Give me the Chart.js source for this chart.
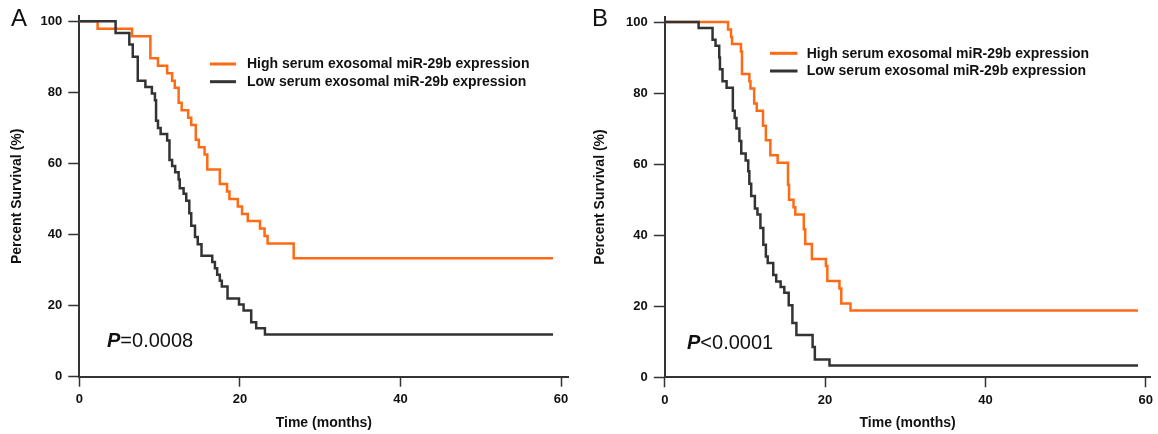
<!DOCTYPE html>
<html>
<head>
<meta charset="utf-8">
<script src="https://cdn.jsdelivr.net/npm/chart.js@4.4.0/dist/chart.umd.min.js"></script>
<style>
html,body{margin:0;padding:0;background:#fff;}
#wrap{position:relative;width:1158px;height:434px;overflow:hidden;}
.pane{position:absolute;top:0;width:579px;height:434px;}
</style>
</head>
<body>
<div id="wrap">
  <div class="pane" style="left:0"><canvas id="cA" width="579" height="434"></canvas></div>
  <div class="pane" style="left:579px"><canvas id="cB" width="579" height="434"></canvas></div>
</div>
<script>
// ---------- data ----------
const seriesLabels = ['High serum exosomal miR-29b expression', 'Low serum exosomal miR-29b expression'];
const panelLetters = ['A', 'B'];
const pValueLabels = [['P', '=0.0008'], ['P', '<0.0001']];
const xTicks = [0, 20, 40, 60];
const yTicks = [0, 20, 40, 60, 80, 100];
const xTitle = 'Time (months)';
const yTitle = 'Percent Survival (%)';

// Panel A – high expression
const highTimesA = [0, 2.28, 6.57, 8.85, 9.8, 10.94, 11.56, 11.89, 12.37, 12.75, 13.56, 13.94, 14.51, 14.89, 15.6, 15.94, 17.5, 18.4, 18.7, 19.74, 20.27, 20.98, 22.5, 23.07, 23.45, 26.7, 59.0];
const highSurvA  = [100, 97.9, 95.8, 89.6, 87.5, 85.4, 83.3, 81.3, 77.1, 75.0, 72.9, 70.8, 66.7, 64.6, 62.5, 58.3, 54.2, 52.1, 50.0, 47.9, 45.8, 43.8, 41.7, 39.6, 37.5, 33.3, 33.3];
// Panel A – low expression
const lowTimesA = [0, 4.52, 6.23, 6.66, 7.28, 8.23, 9.04, 9.42, 9.56, 9.8, 10.13, 10.94, 11.23, 11.56, 11.94, 12.37, 12.51, 12.99, 13.32, 13.7, 13.94, 14.41, 14.75, 15.22, 16.56, 16.89, 17.17, 17.5, 17.75, 18.46, 19.89, 20.46, 21.41, 22.03, 23.12, 59.0];
const lowSurvA  = [100, 96.7, 93.5, 90.0, 83.3, 81.5, 79.7, 77.8, 72.0, 70.0, 68.3, 66.5, 61.0, 59.3, 57.5, 55.5, 53.0, 51.5, 49.5, 46.0, 42.5, 39.3, 37.3, 34.0, 32.3, 30.5, 28.7, 27.0, 25.4, 22.0, 20.3, 18.6, 15.3, 13.6, 11.9, 11.9];
// Panel B – high expression
const highTimesB = [0, 7.89, 8.26, 8.39, 9.5, 9.63, 10.55, 10.69, 11.15, 11.47, 12.25, 12.61, 13.17, 14.08, 15.37, 15.5, 16.06, 16.28, 17.34, 17.52, 18.35, 20.1, 20.28, 21.79, 22.02, 23.17, 59.04];
const highSurvB  = [100, 97.9, 95.8, 93.8, 91.7, 85.4, 83.3, 81.3, 77.1, 75.0, 70.8, 66.7, 62.5, 60.4, 54.2, 50.0, 47.9, 45.8, 41.7, 37.5, 33.3, 31.3, 27.1, 25.0, 20.8, 18.8, 18.8];
// Panel B – low expression
const lowTimesB = [0, 4.22, 5.96, 6.33, 6.79, 6.88, 7.2, 7.71, 8.49, 8.72, 8.94, 9.31, 9.54, 10.09, 10.41, 10.55, 10.78, 11.24, 11.56, 11.93, 12.29, 12.61, 12.84, 13.53, 13.9, 14.45, 14.91, 15.46, 15.92, 16.42, 18.44, 18.72, 20.55, 59.04];
const lowSurvB  = [100, 98.3, 95.0, 93.3, 90.0, 86.7, 83.3, 81.5, 75.0, 73.0, 70.0, 66.5, 63.0, 61.0, 58.0, 54.5, 51.0, 47.5, 45.8, 42.0, 37.3, 34.0, 32.2, 28.8, 27.0, 25.4, 23.8, 20.3, 15.3, 11.9, 8.5, 5.0, 3.3, 3.3];

// ---------- styling ----------
const FONT = "'Liberation Sans', Arial, Helvetica, sans-serif";
const ORANGE = '#FF6A14';
const DARK = '#333333';
const AXIS = '#333333';

function pts(ts, vs) { return ts.map((t, i) => ({ x: t, y: vs[i] })); }

const decorPlugin = {
  id: 'decor',
  afterDraw(chart, args, o) {
    const ctx = chart.ctx;
    ctx.save();
    // panel letter
    ctx.fillStyle = '#111';
    ctx.font = `normal 24px ${FONT}`;
    ctx.textAlign = 'left';
    ctx.textBaseline = 'alphabetic';
    ctx.fillText(o.letter, o.letterX, o.letterY);
    // legend
    const ds = chart.data.datasets;
    o.legendOrder.forEach((di, k) => {
      const y = o.legendY[k];
      ctx.strokeStyle = ds[di].borderColor;
      ctx.lineWidth = 3;
      ctx.beginPath();
      ctx.moveTo(o.legendX1, y);
      ctx.lineTo(o.legendX2, y);
      ctx.stroke();
      ctx.fillStyle = '#111';
      ctx.font = `bold 14px ${FONT}`;
      ctx.textBaseline = 'middle';
      ctx.fillText(ds[di].label, o.legendTextX, y + 0.5);
    });
    // p value
    ctx.textBaseline = 'middle';
    ctx.font = `italic bold 20px ${FONT}`;
    ctx.fillText(o.p[0], o.pX, o.pY);
    const w = ctx.measureText(o.p[0]).width;
    ctx.font = `normal 20px ${FONT}`;
    ctx.fillText(o.p[1], o.pX + w, o.pY);
    ctx.restore();
  }
};

function makeChart(id, highT, highS, lowT, lowS, cfg) {
  return new Chart(document.getElementById(id), {
    type: 'line',
    data: {
      datasets: [
        { label: seriesLabels[0], data: pts(highT, highS), borderColor: ORANGE, borderWidth: 2.5, stepped: 'before', pointRadius: 0, fill: false, order: 2 },
        { label: seriesLabels[1], data: pts(lowT, lowS), borderColor: DARK, borderWidth: 2.5, stepped: 'before', pointRadius: 0, fill: false, order: 1 }
      ]
    },
    options: {
      responsive: false,
      animation: false,
      events: [],
      layout: { padding: { top: cfg.padTop, right: cfg.padRight, left: 0, bottom: 0 } },
      plugins: {
        legend: { display: false },
        tooltip: { enabled: false },
        decor: cfg.decor
      },
      scales: {
        x: {
          type: 'linear',
          min: 0,
          max: cfg.xMax,
          afterBuildTicks: s => { s.ticks = xTicks.map(v => ({ value: v })); },
          afterFit: s => { s.height = cfg.xHeight; },
          border: { display: true, color: AXIS, width: 2 },
          grid: { display: true, drawOnChartArea: false, drawTicks: true, tickLength: 10, tickColor: AXIS, tickWidth: 1.5 },
          ticks: { color: '#111', padding: 5, maxRotation: 0, font: { family: FONT, size: 13, weight: 'bold' } },
          title: { display: true, text: xTitle, color: '#111', font: { family: FONT, size: 14, weight: 'bold' }, padding: { top: 0, bottom: 2.5 } }
        },
        y: {
          type: 'linear',
          min: 0,
          max: 101.5,
          afterBuildTicks: s => { s.ticks = yTicks.map(v => ({ value: v })); },
          afterFit: s => { s.width = cfg.yWidth; },
          border: { display: true, color: AXIS, width: 2 },
          grid: { display: true, drawOnChartArea: false, drawTicks: true, tickLength: 11, tickColor: AXIS, tickWidth: 1.5 },
          ticks: { color: '#111', padding: 6, font: { family: FONT, size: 13, weight: 'bold' } },
          title: { display: true, text: yTitle, color: '#111', font: { family: FONT, size: 14, weight: 'bold' }, padding: { top: cfg.yTitlePad, bottom: 0 } }
        }
      }
    },
    plugins: [decorPlugin]
  });
}

makeChart('cA', highTimesA, highSurvA, lowTimesA, lowSurvA, {
  padTop: 16, padRight: 10.7, xMax: 60.9, xHeight: 57.3, yWidth: 79.3, yTitlePad: 8.6,
  decor: {
    letter: panelLetters[0], letterX: 11, letterY: 26,
    legendOrder: [0, 1], legendX1: 210, legendX2: 236, legendTextX: 247, legendY: [64, 81.7],
    p: pValueLabels[0], pX: 107, pY: 341
  }
});

makeChart('cB', highTimesB, highSurvB, lowTimesB, lowSurvB, {
  padTop: 16.7, padRight: 6.7, xMax: 60.6, xHeight: 56.7, yWidth: 85.8, yTitlePad: 12.6,
  decor: {
    letter: panelLetters[1], letterX: 13, letterY: 26,
    legendOrder: [0, 1], legendX1: 191, legendX2: 218.5, legendTextX: 227.7, legendY: [53.3, 71],
    p: pValueLabels[1], pX: 108, pY: 343
  }
});
</script>
</body>
</html>
